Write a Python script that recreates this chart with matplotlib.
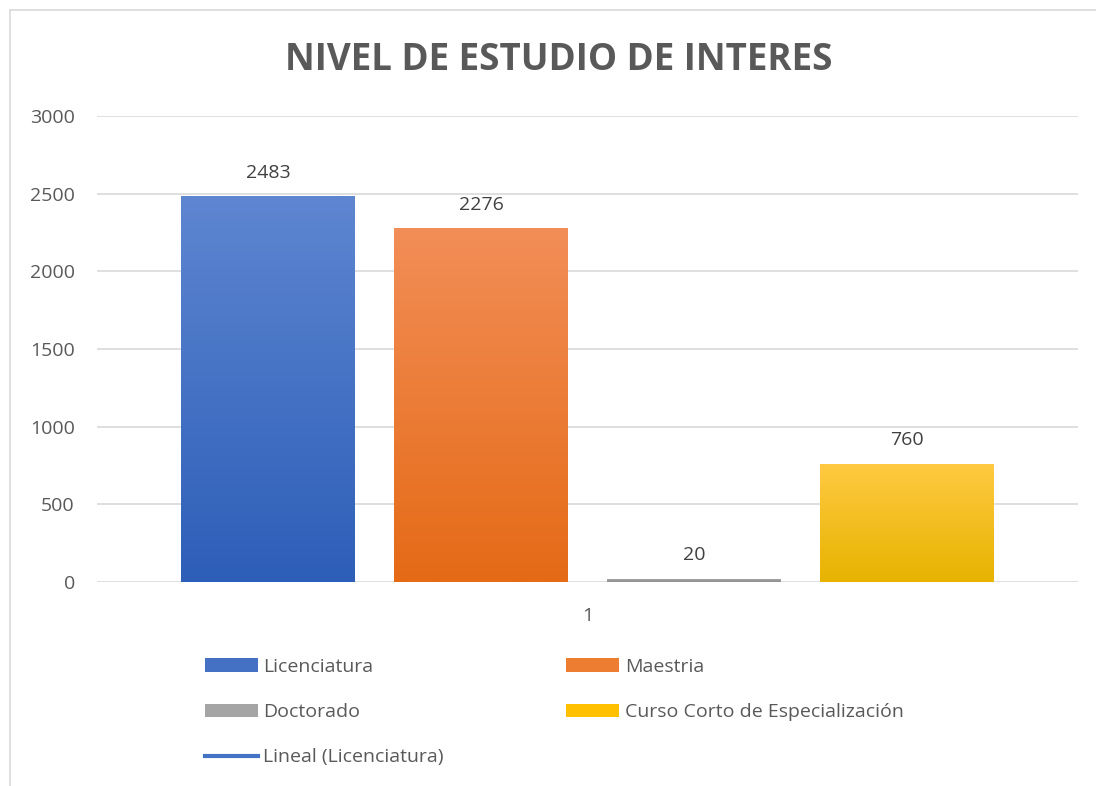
import numpy as np
import matplotlib
matplotlib.use("Agg")
import matplotlib.pyplot as plt
from matplotlib.colors import LinearSegmentedColormap
from matplotlib.patches import Patch
from matplotlib.lines import Line2D

plt.rcParams["font.family"] = ["Open Sans", "DejaVu Sans"]

series = ["Licenciatura", "Maestria", "Doctorado", "Curso Corto de Especialización"]
values = [2483, 2276, 20, 760]
category = "1"
trend_label = "Lineal (Licenciatura)"
yticks = [0, 500, 1000, 1500, 2000, 2500, 3000]

tops = ["#5E86D1", "#F28E57", "#ABABAB", "#FFCA42"]
bottoms = ["#2D5EB8", "#E56A16", "#8F8F8F", "#E7B300"]
mids = ["#4471C4", "#ED7D31", "#A5A5A5", "#FFC000"]
text_col = "#595959"

fig = plt.figure(figsize=(10.96, 7.86), dpi=100)
ax = fig.add_axes([97 / 1096, 204 / 786, 981 / 1096, 466 / 786])

offsets = np.arange(len(series)) - (len(series) - 1) / 2
width = 174 / 213

for x, v, t, b in zip(offsets, values, tops, bottoms):
    bar = ax.bar(x, v, width=width, color=b, zorder=3)[0]
    cmap = LinearSegmentedColormap.from_list("g", [b, t])
    grad = np.linspace(0, 1, 256).reshape(-1, 1)
    im = ax.imshow(grad, cmap=cmap, aspect="auto", origin="lower",
                   extent=[x - width / 2, x + width / 2, 0, v], zorder=4)
    im.set_clip_path(bar)
    ax.text(x, v + 95, str(v), ha="center", va="bottom", fontsize=14, color="#404040")

ax.set_xlim(-2.303, 2.303)
ax.set_ylim(0, 3000)
ax.set_yticks(yticks)
ax.set_xticks([0])
ax.set_xticklabels([category])
ax.tick_params(axis="both", length=0, labelsize=14, labelcolor=text_col)
ax.tick_params(axis="y", pad=16)
ax.tick_params(axis="x", pad=18)
ax.grid(axis="y", color="#D9D9D9", linewidth=1.2, zorder=0)
for s in ax.spines.values():
    s.set_visible(False)

fig.text(559 / 1096, 1 - 60 / 786, "NIVEL DE ESTUDIO DE INTERES", ha="center", va="center",
         fontsize=26.5, fontweight="bold", color=text_col)

handles = [Patch(facecolor=c) for c in mids]
trend = Line2D([0], [0], color="#4472C4", linewidth=3)
order = [handles[0], handles[2], trend, handles[1], handles[3]]
labels = [series[0], series[2], trend_label, series[1], series[3]]
fig.legend(order, labels, ncol=2, loc="upper left", bbox_to_anchor=(205 / 1096, 1 - 658 / 786),
           frameon=False, fontsize=14, labelcolor=text_col, handlelength=2.7, handleheight=0.7,
           handletextpad=0.3, columnspacing=6.3, labelspacing=1.4, borderpad=0, borderaxespad=0)

border = "#D9D9D9"
fig.add_artist(Line2D([10 / 1096, 10 / 1096], [0, 1 - 10 / 786], color=border, linewidth=1.2))
fig.add_artist(Line2D([10 / 1096, 1], [1 - 10 / 786, 1 - 10 / 786], color=border, linewidth=1.2))

fig.savefig("out.png", dpi=100)
